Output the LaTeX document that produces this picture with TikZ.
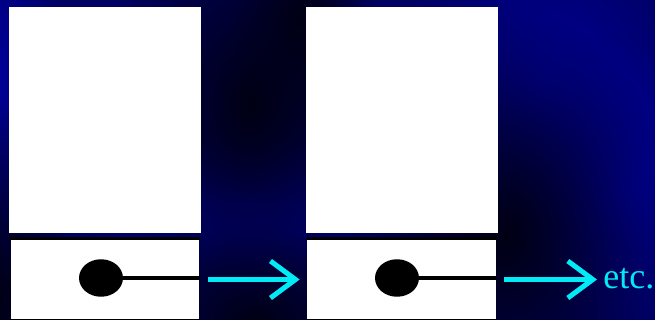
\documentclass[tikz,border=0pt]{standalone}
\usepackage{fontspec}
\setmainfont{Liberation Serif}
\usetikzlibrary{arrows.meta,positioning,shapes.geometric,fadings}
\definecolor{slidebg}{RGB}{0,0,100}
\definecolor{glowblue}{RGB}{0,0,150}
\definecolor{deepblue}{RGB}{0,0,20}
\definecolor{linkcyan}{RGB}{0,235,245}
\tikzfading[name=spotfade, inner color=transparent!0, outer color=transparent!100]

\begin{document}
\begin{tikzpicture}[x=0.02cm, y=-0.02cm,
  page/.style={rectangle, fill=white, minimum width=3.84cm, minimum height=4.52cm, inner sep=0pt},
  cell/.style={rectangle, fill=white, minimum width=3.78cm, minimum height=1.62cm, inner sep=0pt},
  dot/.style={ellipse, fill=black, minimum width=0.88cm, minimum height=0.75cm, inner sep=0pt},
  edge/.style={line width=0.07cm, black},
  ptr/.style={line width=0.1cm, black},
  glow/.style={fill=glowblue, path fading=spotfade},
  shadow/.style={fill=deepblue, path fading=spotfade},
  link/.style={-{Straight Barb[length=0.5cm, width=0.74cm]}, line width=0.1cm, linkcyan}
]
\useasboundingbox (0,0) rectangle (655,320);

% background
\begin{scope}
  \clip (0,0) rectangle (655,320);
  \fill[slidebg] (0,0) rectangle (655,320);
  \fill[glow] (0,70) ellipse [x radius=1.2cm, y radius=4.5cm];
  \fill[glow] (250,205) ellipse [x radius=3.6cm, y radius=1.3cm];
  \fill[glow] (545,85) ellipse [x radius=3cm, y radius=3.4cm];
  \fill[glow] (630,190) ellipse [x radius=2.4cm, y radius=3cm];
  \fill[shadow] (250,105) ellipse [x radius=3cm, y radius=4.6cm];
  \fill[shadow] (300,20) ellipse [x radius=1.4cm, y radius=2.6cm];
  \fill[shadow] (505,235) ellipse [x radius=3.4cm, y radius=4.6cm];
  \fill[shadow] (0,300) ellipse [x radius=1.6cm, y radius=4cm];
  \fill[shadow] (255,320) ellipse [x radius=3.2cm, y radius=1.8cm];
\end{scope}

% list records
\node[page] (page1) at (105,120) {};
\node[page] (page2) at (402,120) {};
\node[cell] (cell1) at (105,279.5) {};
\node[cell] (cell2) at (401.5,279.5) {};
\foreach \c in {cell1,cell2} {
  \draw[edge] (\c.north west) -- (\c.north east);
  \draw[edge] (\c.south west) -- (\c.south east);
}
\node[dot] (dot1) at (101,278) {};
\node[dot] (dot2) at (397,278) {};
\draw[ptr] (dot1.east) -- (dot1 -| cell1.east);
\draw[ptr] (dot2.east) -- (dot2 -| cell2.east);

\node[text=linkcyan, font=\fontsize{20.5}{20.5}\selectfont, inner sep=0pt, anchor=base west] (etc) at (603,289) {etc.};

\draw[link, shorten <=0.16cm, shorten >=0.14cm] (cell1.east) -- (cell2.west);
\draw[link, shorten <=0.16cm, shorten >=0.12cm] (cell2.east) -- (cell2.east -| etc.west);
\end{tikzpicture}
\end{document}
